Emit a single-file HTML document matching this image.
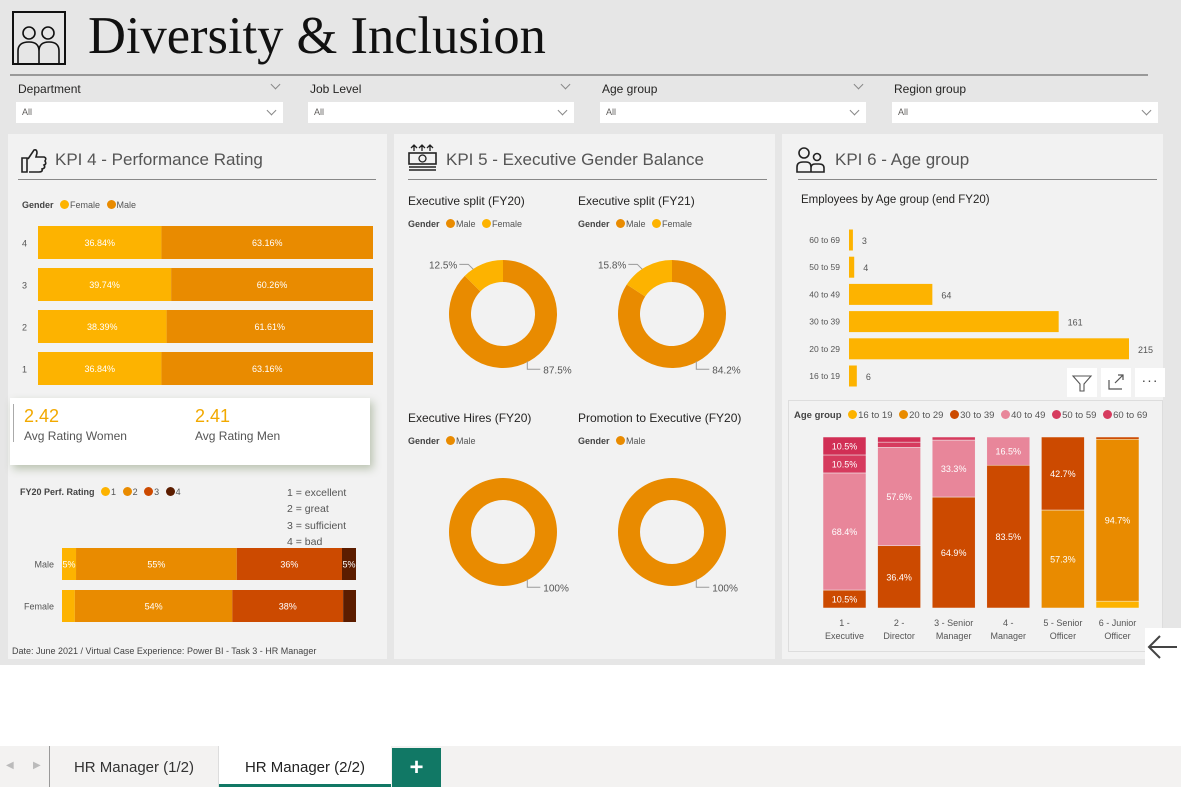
<!DOCTYPE html>
<html><head><meta charset="utf-8">
<style>
*{box-sizing:border-box;margin:0;padding:0}
body{width:1181px;height:787px;position:relative;background:#fff;font-family:"Liberation Sans",sans-serif;overflow:hidden;color:#252423}
.abs{position:absolute}
#canvas{left:0;top:0;width:1181px;height:665px;background:#e6e6e6}
.slab{font-size:12px;color:#252423}
.sbox{background:#fff;height:21px;font-size:9px;color:#605e5c;padding:5px 6px}
.chev{position:absolute;width:7px;height:7px;border-right:1px solid #888;border-bottom:1px solid #888;transform:rotate(45deg)}
.panel{background:#f2f2f2;top:134px;height:525px}
.ptitle{font-size:17px;color:#555}
.hr{height:1px;background:#888}
.leg{font-size:9px;color:#555}
.leg b{color:#444}
.dot{display:inline-block;width:9px;height:9px;border-radius:50%;vertical-align:-1px;margin:0 1px 0 4px}
.sub{font-size:12px;color:#252423}
svg text{font-family:"Liberation Sans",sans-serif}
</style></head><body>
<div id="canvas" class="abs"></div>

<svg class="abs" style="left:12px;top:11px" width="54" height="54">
<rect x="1" y="1" width="52" height="52" fill="none" stroke="#111" stroke-width="2"/>
<circle cx="17" cy="22" r="6" fill="none" stroke="#111" stroke-width="1.6"/><circle cx="36" cy="22" r="6" fill="none" stroke="#111" stroke-width="1.6"/>
<path d="M6 52 V40 Q6 31 17 31 Q27 31 27 40 V52 M27 40 Q27 31 37 31 Q47 31 47 40 V52" fill="none" stroke="#111" stroke-width="1.6"/>
</svg>
<div class="abs" style="left:88px;top:6px;font-family:'Liberation Serif',serif;font-size:52.5px;color:#111">Diversity &amp; Inclusion</div>
<div class="abs hr" style="left:10px;top:74px;width:1138px;height:2px;background:#999"></div>

<div>
<div class="abs slab" style="left:18px;top:82px">Department</div><div class="chev" style="left:272px;top:81px"></div>
<div class="abs sbox" style="left:16px;top:102px;width:267px">All<div class="chev" style="left:252px;top:5px"></div></div></div>
<div>
<div class="abs slab" style="left:310px;top:82px">Job Level</div><div class="chev" style="left:562px;top:81px"></div>
<div class="abs sbox" style="left:308px;top:102px;width:266px">All<div class="chev" style="left:251px;top:5px"></div></div></div>
<div>
<div class="abs slab" style="left:602px;top:82px">Age group</div><div class="chev" style="left:855px;top:81px"></div>
<div class="abs sbox" style="left:600px;top:102px;width:266px">All<div class="chev" style="left:251px;top:5px"></div></div></div>
<div>
<div class="abs slab" style="left:894px;top:82px">Region group</div>
<div class="abs sbox" style="left:892px;top:102px;width:266px">All<div class="chev" style="left:251px;top:5px"></div></div></div>

<!-- KPI 4 -->
<div class="abs panel" style="left:8px;width:379px"></div>
<svg class="abs" style="left:20px;top:146px" width="28" height="28"><path d="M2 12h5v14H2z M8 13 L14 4 Q17 3 17 7 L16 11 H24 Q27 12 25 15 Q27 18 24 19 Q26 22 22 23 Q23 26 19 26 H9" fill="none" stroke="#222" stroke-width="1.6"/></svg>
<div class="abs ptitle" style="left:55px;top:150px">KPI 4 - Performance Rating</div>
<div class="abs hr" style="left:18px;top:179px;width:358px"></div>
<div class="abs leg" style="left:22px;top:200px"><b>Gender</b> <span class="dot" style="background:#fdb300"></span>Female <span class="dot" style="background:#e98b00"></span>Male</div>
<svg id="perfGender" class="abs" style="left:0;top:215px" width="387" height="180"></svg>
<div class="abs" style="left:10px;top:398px;width:360px;height:67px;background:#fff;box-shadow:3px 4px 8px rgba(120,140,100,.45)">
<div class="abs" style="left:3px;top:6px;width:1px;height:38px;background:#aaa"></div>
<div class="abs" style="left:14px;top:8px;font-size:18px;color:#f2a900">2.42</div>
<div class="abs" style="left:14px;top:31px;font-size:12px;color:#555">Avg Rating Women</div>
<div class="abs" style="left:185px;top:8px;font-size:18px;color:#f2a900">2.41</div>
<div class="abs" style="left:185px;top:31px;font-size:12px;color:#555">Avg Rating Men</div></div>
<div class="abs leg" style="left:20px;top:487px"><b>FY20 Perf. Rating</b> <span class="dot" style="background:#fdb300"></span>1 <span class="dot" style="background:#e98b00"></span>2 <span class="dot" style="background:#cc4a00"></span>3 <span class="dot" style="background:#5c1d00"></span>4</div>
<div class="abs" style="left:287px;top:485px;font-size:10.5px;color:#555;line-height:16.3px">1 = excellent<br>2 = great<br>3 = sufficient<br>4 = bad</div>
<svg id="perfRating" class="abs" style="left:0;top:540px" width="387" height="90"></svg>
<div class="abs" style="left:12px;top:646px;font-size:9px;color:#444">Date: June 2021 / Virtual Case Experience: Power BI - Task 3 - HR Manager</div>

<!-- KPI 5 -->
<div class="abs panel" style="left:394px;width:381px"></div>
<svg class="abs" style="left:408px;top:144px" width="30" height="28"><path d="M6 1v6M3 4l3-3 3 3M14 1v6M11 4l3-3 3 3M22 1v6M19 4l3-3 3 3" stroke="#222" fill="none" stroke-width="1.3"/><rect x="1" y="9" width="27" height="11" fill="none" stroke="#222" stroke-width="1.6"/><circle cx="14.5" cy="14.5" r="3.5" fill="none" stroke="#222" stroke-width="1.3"/><path d="M1 23h27M1 26h27" stroke="#222" stroke-width="1.5"/></svg>
<div class="abs ptitle" style="left:446px;top:150px">KPI 5 - Executive Gender Balance</div>
<div class="abs hr" style="left:408px;top:179px;width:359px"></div>
<div class="abs sub" style="left:408px;top:194px">Executive split (FY20)</div>
<div class="abs sub" style="left:578px;top:194px">Executive split (FY21)</div>
<div class="abs leg" style="left:408px;top:219px"><b>Gender</b> <span class="dot" style="background:#e98b00"></span>Male <span class="dot" style="background:#fdb300"></span>Female</div>
<div class="abs leg" style="left:578px;top:219px"><b>Gender</b> <span class="dot" style="background:#e98b00"></span>Male <span class="dot" style="background:#fdb300"></span>Female</div>
<div class="abs sub" style="left:408px;top:411px">Executive Hires (FY20)</div>
<div class="abs sub" style="left:578px;top:411px">Promotion to Executive (FY20)</div>
<div class="abs leg" style="left:408px;top:436px"><b>Gender</b> <span class="dot" style="background:#e98b00"></span>Male</div>
<div class="abs leg" style="left:578px;top:436px"><b>Gender</b> <span class="dot" style="background:#e98b00"></span>Male</div>
<svg id="donuts" class="abs" style="left:394px;top:134px" width="381" height="525"></svg>

<!-- KPI 6 -->
<div class="abs panel" style="left:782px;width:381px"></div>
<svg class="abs" style="left:796px;top:147px" width="30" height="26"><circle cx="8" cy="6" r="5" fill="none" stroke="#222" stroke-width="1.6"/><circle cx="21" cy="10" r="3.5" fill="none" stroke="#222" stroke-width="1.6"/><path d="M1 25v-5q0-5 6-5h3q5 0 5 5v5zM15 25v-4q0-4 4-4h4q5 0 5 4v4z" fill="none" stroke="#222" stroke-width="1.6"/></svg>
<div class="abs ptitle" style="left:835px;top:150px">KPI 6 - Age group</div>
<div class="abs hr" style="left:798px;top:179px;width:359px"></div>
<div class="abs sub" style="left:801px;top:194px;font-size:11.5px">Employees by Age group (end FY20)</div>
<svg id="ageBars" class="abs" style="left:782px;top:225px" width="381" height="165"></svg>
<div class="abs" style="left:788px;top:400px;width:375px;height:252px;border:1px solid #ddd;background:#f2f2f2"></div>
<div class="abs leg" style="left:794px;top:410px;font-size:9.5px;white-space:nowrap"><b>Age group</b> <span class="dot" style="background:#fdb300"></span>16 to 19 <span class="dot" style="background:#e98b00"></span>20 to 29 <span class="dot" style="background:#cc4a00"></span>30 to 39 <span class="dot" style="background:#e8869a"></span>40 to 49 <span class="dot" style="background:#d63b5e"></span>50 to 59 <span class="dot" style="background:#d63b5e"></span>60 to 69</div>
<svg id="ageLevel" class="abs" style="left:782px;top:420px" width="381" height="230"></svg>
<div class="abs" style="left:1067px;top:368px;width:30px;height:29px;background:#fff"><svg width="30" height="29"><path d="M6 8h18l-7 8v7h-4v-7z" fill="none" stroke="#555" stroke-width="1.1"/></svg></div>
<div class="abs" style="left:1101px;top:368px;width:30px;height:29px;background:#fff"><svg width="30" height="29"><path d="M8 12v9h13M14 15l8-8M17 7h5v5" fill="none" stroke="#555" stroke-width="1.2"/></svg></div>
<div class="abs" style="left:1135px;top:368px;width:30px;height:29px;background:#fff;font-size:14px;text-align:center;line-height:24px;color:#444;letter-spacing:1px">&middot;&middot;&middot;</div>
<div class="abs" style="left:1145px;top:628px;width:36px;height:37px;background:#fff"><svg width="36" height="37"><path d="M32 19H5M15 8L4 19l11 11" fill="none" stroke="#444" stroke-width="2"/></svg></div>

<!-- tabs -->
<div class="abs" style="left:0;top:746px;width:1181px;height:41px;background:#f3f2f1"></div>
<div class="abs" style="left:6px;top:760px;font-size:10px;color:#bbb">&#9664;</div>
<div class="abs" style="left:33px;top:760px;font-size:10px;color:#bbb">&#9654;</div>
<div class="abs" style="left:49px;top:746px;width:1px;height:41px;background:#999"></div>
<div class="abs" style="left:50px;top:746px;width:169px;height:41px;font-size:15px;color:#333;text-align:center;line-height:43px;border-right:1px solid #ddd">HR Manager (1/2)</div>
<div class="abs" style="left:219px;top:746px;width:172px;height:41px;background:#fff;font-size:15px;color:#222;text-align:center;line-height:43px;border-bottom:3px solid #117865">HR Manager (2/2)</div>
<div class="abs" style="left:392px;top:748px;width:49px;height:39px;background:#117865;color:#fff;font-size:24px;font-weight:bold;text-align:center;line-height:39px">+</div>

<script>
const NS="http://www.w3.org/2000/svg";
function mk(svg,tag,attrs,txt){const e=document.createElementNS(NS,tag);for(const k in attrs)e.setAttribute(k,attrs[k]);if(txt!==undefined)e.textContent=txt;svg.appendChild(e);return e;}

// KPI4 gender split
const ratingCats=["4","3","2","1"];
const femalePct=[36.84,39.74,38.39,36.84];
const malePct=[63.16,60.26,61.61,63.16];
// perf rating distribution
const genderCats=["Male","Female"];
const r1=[4.8,4.4],r2=[55,54],r3=[36,38],r4=[4.8,4.4];
const r1Lbl=["5%",""],r2Lbl=["55%","54%"],r3Lbl=["36%","38%"],r4Lbl=["5%",""];
// donuts
const donutTitles=["fy20","fy21","hires","promotion"];
const donutMale=[87.5,84.2,100,100];
const donutFemale=[12.5,15.8,0,0];
// age counts
const ageCats=["60 to 69","50 to 59","40 to 49","30 to 39","20 to 29","16 to 19"];
const ageCounts=[3,4,64,161,215,6];
// age by level
const levelCats=["1 - |Executive","2 - |Director","3 - Senior|Manager","4 - |Manager","5 - Senior|Officer","6 - Junior|Officer"];
const a1619=[0,0,0,0,0,4];
const a2029=[0,0,0,0,57.3,94.7];
const a3039=[10.5,36.4,64.9,83.5,42.7,1.3];
const a4049=[68.4,57.6,33.3,16.5,0,0];
const a5059=[10.5,3,1.8,0,0,0];
const a6069=[10.5,3,0,0,0,0];

// --- KPI4 gender chart
(function(){
 const s=document.getElementById('perfGender');
 const x0=38,w=335;const xs=v=>v/100*w;
 const yb=i=>11+i*42;const bh=33;
 ratingCats.forEach((c,i)=>{
  const t=mk(s,'text',{x:22,y:yb(i)+bh/2+4,'font-size':9,fill:'#555'},c);
  
  
  const f=mk(s,'rect',{x:x0,y:yb(i),width:xs(femalePct[i]),height:bh,fill:'#fdb300'});
  
  
  const m=mk(s,'rect',{x:x0+xs(femalePct[i]),y:yb(i),width:xs(malePct[i]),height:bh,fill:'#e98b00'});
  
  
  mk(s,'text',{x:x0+xs(femalePct[i])/2,y:yb(i)+bh/2+3.5,'font-size':9,fill:'#fff','text-anchor':'middle'},femalePct[i].toFixed(2)+'%');
  mk(s,'text',{x:x0+xs(femalePct[i])+xs(malePct[i])/2,y:yb(i)+bh/2+3.5,'font-size':9,fill:'#fff','text-anchor':'middle'},malePct[i].toFixed(2)+'%');
 });
})();
// --- perf rating
(function(){
 const s=document.getElementById('perfRating');
 const x0=62,w=294;const tot=i=>r1[i]+r2[i]+r3[i]+r4[i];
 const series=[[r1,'#fdb300',r1Lbl],[r2,'#e98b00',r2Lbl],[r3,'#cc4a00',r3Lbl],[r4,'#5c1d00',r4Lbl]];
 genderCats.forEach((g,i)=>{
  const y=8+i*42,h=32;
  mk(s,'text',{x:54,y:y+h/2+3.5,'font-size':9,fill:'#555','text-anchor':'end'},g);
  let acc=0;
  series.forEach((sr,k)=>{
   const ww=sr[0][i]/tot(i)*w;
   const r=mk(s,'rect',{x:x0+acc,y:y,width:ww,height:h,fill:sr[1]});
   
   
   if(sr[2][i])mk(s,'text',{x:x0+acc+ww/2,y:y+h/2+3.5,'font-size':9,fill:'#fff','text-anchor':'middle'},sr[2][i]);
   acc+=ww;
  });
 });
})();
// --- donuts
(function(){
 const s=document.getElementById('donuts');
 const cx=[109,278,109,278],cy=[180,180,398,398];const R=54,r=32;
 function arc(c1,c2,a0,a1){
  const p=(rad,a)=>[c1+rad*Math.sin(a),c2-rad*Math.cos(a)];
  if(a1-a0>=Math.PI*2-1e-6){return `M${c1} ${c2-R}A${R} ${R} 0 1 1 ${c1-0.01} ${c2-R}ZM${c1} ${c2-r}A${r} ${r} 0 1 0 ${c1+0.01} ${c2-r}Z`;}
  const L=(a1-a0)>Math.PI?1:0;const A=p(R,a0),B=p(R,a1),C=p(r,a1),D=p(r,a0);
  return `M${A}A${R} ${R} 0 ${L} 1 ${B}L${C}A${r} ${r} 0 ${L} 0 ${D}Z`;
 }
 donutTitles.forEach((t,i)=>{
  const tot=donutMale[i]+donutFemale[i];
  const am=donutMale[i]/tot*Math.PI*2;
  const m=mk(s,'path',{d:arc(cx[i],cy[i],0,am),fill:'#e98b00','fill-rule':'evenodd'});
  
  
  const lx=cx[i]+R*0.45,ly=cy[i]+R*0.95;
  mk(s,'path',{d:`M${lx} ${ly-4}V${ly+4}H${lx+13}`,stroke:'#999',fill:'none','stroke-width':1});
  mk(s,'text',{x:lx+16,y:ly+8,'font-size':10,fill:'#555'},(donutMale[i]===100?'100':donutMale[i].toFixed(1))+'%');
  if(donutFemale[i]>0){
   const f=mk(s,'path',{d:arc(cx[i],cy[i],am,Math.PI*2),fill:'#fdb300'});
   
   
   const fx=cx[i]-R*0.55,fy=cy[i]-R*0.92;
   mk(s,'path',{d:`M${fx} ${fy+5}L${fx-5} ${fy}H${fx-14}`,stroke:'#999',fill:'none','stroke-width':1});
   mk(s,'text',{x:fx-16,y:fy+4,'font-size':10,fill:'#555','text-anchor':'end'},donutFemale[i].toFixed(1)+'%');
  }
 });
})();
// --- age bars
(function(){
 const s=document.getElementById('ageBars');
 const x0=67,w=280,max=215;const xs=v=>v/max*w;
 ageCats.forEach((c,i)=>{
  const yc=15+i*27.2;
  mk(s,'text',{x:58,y:yc+3,'font-size':8.5,fill:'#555','text-anchor':'end'},c);
  const r=mk(s,'rect',{x:x0,y:yc-10.5,width:xs(ageCounts[i]),height:21,fill:'#fdb300'});
  
  
  mk(s,'text',{x:x0+xs(ageCounts[i])+9,y:yc+4,'font-size':9,fill:'#555'},ageCounts[i]);
 });
})();
// --- age by level
(function(){
 const s=document.getElementById('ageLevel');
 const top=17,h=171;const ys=v=>v/100*h;
 const series=[[a1619,'#fdb300','16-19'],[a2029,'#e98b00','20-29'],[a3039,'#cc4a00','30-39'],[a4049,'#e8869a','40-49'],[a5059,'#d63b5e','50-59'],[a6069,'#d12f55','60-69']];
 levelCats.forEach((c,i)=>{
  const x=41+i*54.6,w=43;
  let tot=0;series.forEach(sr=>tot+=sr[0][i]);
  let acc=0;
  series.forEach((sr,k)=>{
   const v=sr[0][i];if(!v)return;
   const hh=ys(v/tot*100);const y=top+h-acc-hh;
   const r=mk(s,'rect',{x:x,y:y,width:w,height:hh,fill:sr[1],stroke:'#f2f2f2','stroke-width':0.5});
   
   
   if(v>=10)mk(s,'text',{x:x+w/2,y:y+hh/2+3.5,'font-size':9,fill:'#fff','text-anchor':'middle'},v.toFixed(1)+'%');
   acc+=hh;
  });
  const parts=c.split('|');
  mk(s,'text',{x:x+w/2,y:top+h+18,'font-size':9,fill:'#555','text-anchor':'middle'},parts[0]);
  mk(s,'text',{x:x+w/2,y:top+h+31,'font-size':9,fill:'#555','text-anchor':'middle'},parts[1]);
 });
})();
</script>
</body></html>
